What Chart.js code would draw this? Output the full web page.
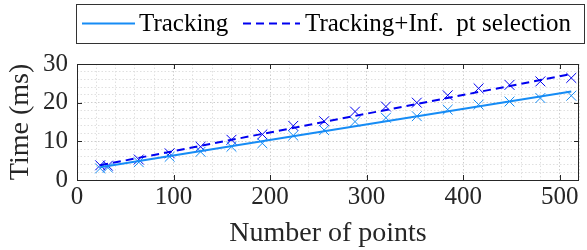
<!DOCTYPE html>
<html>
<head>
<meta charset="utf-8">
<script src="https://cdn.jsdelivr.net/npm/chart.js@4/dist/chart.umd.min.js"></script>
<style>
  html, body { margin: 0; padding: 0; background: #fff; }
  #wrap { width: 587px; height: 250px; }
</style>
</head>
<body>
<div id="wrap"><canvas id="timeChart"></canvas></div>
<script>
// measured points
const numPoints = [24, 32, 64, 96, 128, 160, 192, 224, 256, 288, 320, 352, 384, 416, 448, 480, 512];
const trackingMs = [3.0, 3.2, 4.6, 6.0, 7.3, 8.6, 9.5, 11.5, 12.9, 15.1, 16.1, 16.5, 18.2, 19.5, 20.3, 21.2, 21.8];
const trackingInfMs = [3.8, 3.7, 5.3, 6.9, 8.6, 10.4, 11.8, 14.0, 15.2, 17.7, 19.0, 20.0, 21.9, 23.7, 24.6, 25.5, 26.4];

// fitted lines (end points)
const fitPoints = [24, 512];
const trackingFit = [3.3, 22.9];
const trackingInfFit = [3.8, 27.4];

const legendLabels = ['Tracking', 'Tracking+Inf.  pt selection'];
const xTickLabels = [0, 100, 200, 300, 400, 500];
const yTickLabels = [0, 10, 20, 30];

const lightBlue = '#168cf5';
const darkBlue = '#0000f0';
const axisColor = '#262626';

const toXY = (xs, ys) => xs.map((x, i) => ({ x: x, y: ys[i] }));

Chart.defaults.font.family = "'Liberation Serif', serif";
Chart.defaults.color = axisColor;

// box + inward ticks, MATLAB style
const boxPlugin = {
  id: 'boxPlugin',
  afterDraw(chart) {
    const { ctx, chartArea: a, scales } = chart;
    ctx.save();
    ctx.strokeStyle = axisColor;
    ctx.lineWidth = 1;
    ctx.strokeRect(Math.round(a.left) + 0.5, Math.round(a.top) + 0.5,
      Math.round(a.right - a.left) - 1, Math.round(a.bottom - a.top));
    const tl = 5;
    xTickLabels.forEach(v => {
      const px = Math.round(scales.x.getPixelForValue(v)) + 0.5;
      ctx.beginPath();
      ctx.moveTo(px, a.bottom); ctx.lineTo(px, a.bottom - tl);
      ctx.moveTo(px, a.top); ctx.lineTo(px, a.top + tl);
      ctx.stroke();
    });
    yTickLabels.forEach(v => {
      const py = Math.round(scales.y.getPixelForValue(v)) + 0.5;
      ctx.beginPath();
      ctx.moveTo(a.left, py); ctx.lineTo(a.left + tl, py);
      ctx.moveTo(a.right, py); ctx.lineTo(a.right - tl, py);
      ctx.stroke();
    });
    ctx.restore();
  }
};

// legend in a framed box above the axes
const legendPlugin = {
  id: 'boxLegend',
  afterDraw(chart) {
    const ctx = chart.ctx;
    const ds = chart.data.datasets;
    ctx.save();
    ctx.strokeStyle = '#333';
    ctx.lineWidth = 1;
    ctx.strokeRect(76.5, 4.5, 508, 39);
    ctx.font = "25px 'Liberation Serif', serif";
    ctx.textBaseline = 'alphabetic';
    ctx.fillStyle = '#000';
    const items = [{ ds: ds[0], x0: 82, x1: 135, tx: 139 }, { ds: ds[1], x0: 243, x1: 300, tx: 305 }];
    items.forEach((it, i) => {
      ctx.beginPath();
      ctx.strokeStyle = it.ds.borderColor;
      ctx.lineWidth = it.ds.borderWidth;
      ctx.setLineDash(it.ds.borderDash || []);
      ctx.moveTo(it.x0, 23.5); ctx.lineTo(it.x1, 23.5);
      ctx.stroke();
      ctx.setLineDash([]);
      ctx.fillText(legendLabels[i], it.tx, 31);
    });
    ctx.restore();
  }
};

const gridColor = (major) => (ctx) => {
  const v = ctx.tick ? ctx.tick.value : 0;
  return v % major === 0 ? '#cdcdcd' : '#e0e0e0';
};

const data = {
  datasets: [
    {
      label: legendLabels[0],
      type: 'line',
      data: toXY(fitPoints, trackingFit),
      borderColor: lightBlue,
      borderWidth: 2,
      pointRadius: 0
    },
    {
      label: legendLabels[1],
      type: 'line',
      data: toXY(fitPoints, trackingInfFit),
      borderColor: darkBlue,
      borderWidth: 2,
      borderDash: [8, 5],
      pointRadius: 0
    },
    {
      label: 'Tracking data',
      data: toXY(numPoints, trackingMs),
      showLine: false,
      pointStyle: 'crossRot',
      pointRadius: 7,
      pointBorderWidth: 1,
      borderColor: lightBlue,
      backgroundColor: lightBlue
    },
    {
      label: 'Tracking+Inf data',
      data: toXY(numPoints, trackingInfMs),
      showLine: false,
      pointStyle: 'crossRot',
      pointRadius: 7,
      pointBorderWidth: 1,
      borderColor: darkBlue,
      backgroundColor: darkBlue
    }
  ]
};

const config = {
  type: 'scatter',
  data,
  options: {
    responsive: true,
    maintainAspectRatio: false,
    animation: false,
    layout: { padding: { top: 64, right: 0, left: 0, bottom: 0 } },
    plugins: {
      legend: { display: false },
      tooltip: { enabled: false }
    },
    scales: {
      x: {
        type: 'linear',
        min: 0,
        max: 520,
        afterFit: (s) => { s.height = 70; },
        border: { display: false, dash: [1.5, 2] },
        grid: { color: gridColor(100), lineWidth: 1, drawTicks: false },
        ticks: {
          stepSize: 20,
          autoSkip: false,
          maxRotation: 0,
          padding: 2,
          font: { size: 25 },
          callback: (v) => xTickLabels.includes(v) ? String(v) : ''
        },
        title: {
          display: true,
          text: 'Number of points',
          font: { size: 28 },
          padding: { top: 0, bottom: 0 }
        }
      },
      y: {
        min: 0,
        max: 30,
        afterFit: (s) => { s.width = 77; },
        border: { display: false, dash: [1.5, 2] },
        grid: { color: gridColor(10), lineWidth: 1, drawTicks: false },
        ticks: {
          stepSize: 2,
          autoSkip: false,
          padding: 9,
          font: { size: 25 },
          callback: (v) => yTickLabels.includes(v) ? String(v) : ''
        },
        title: {
          display: true,
          text: 'Time (ms)',
          font: { size: 28 },
          padding: { top: 4, bottom: 0 }
        }
      }
    }
  },
  plugins: [boxPlugin, legendPlugin]
};

const timeChart = new Chart(document.getElementById('timeChart'), config);
</script>
</body>
</html>
